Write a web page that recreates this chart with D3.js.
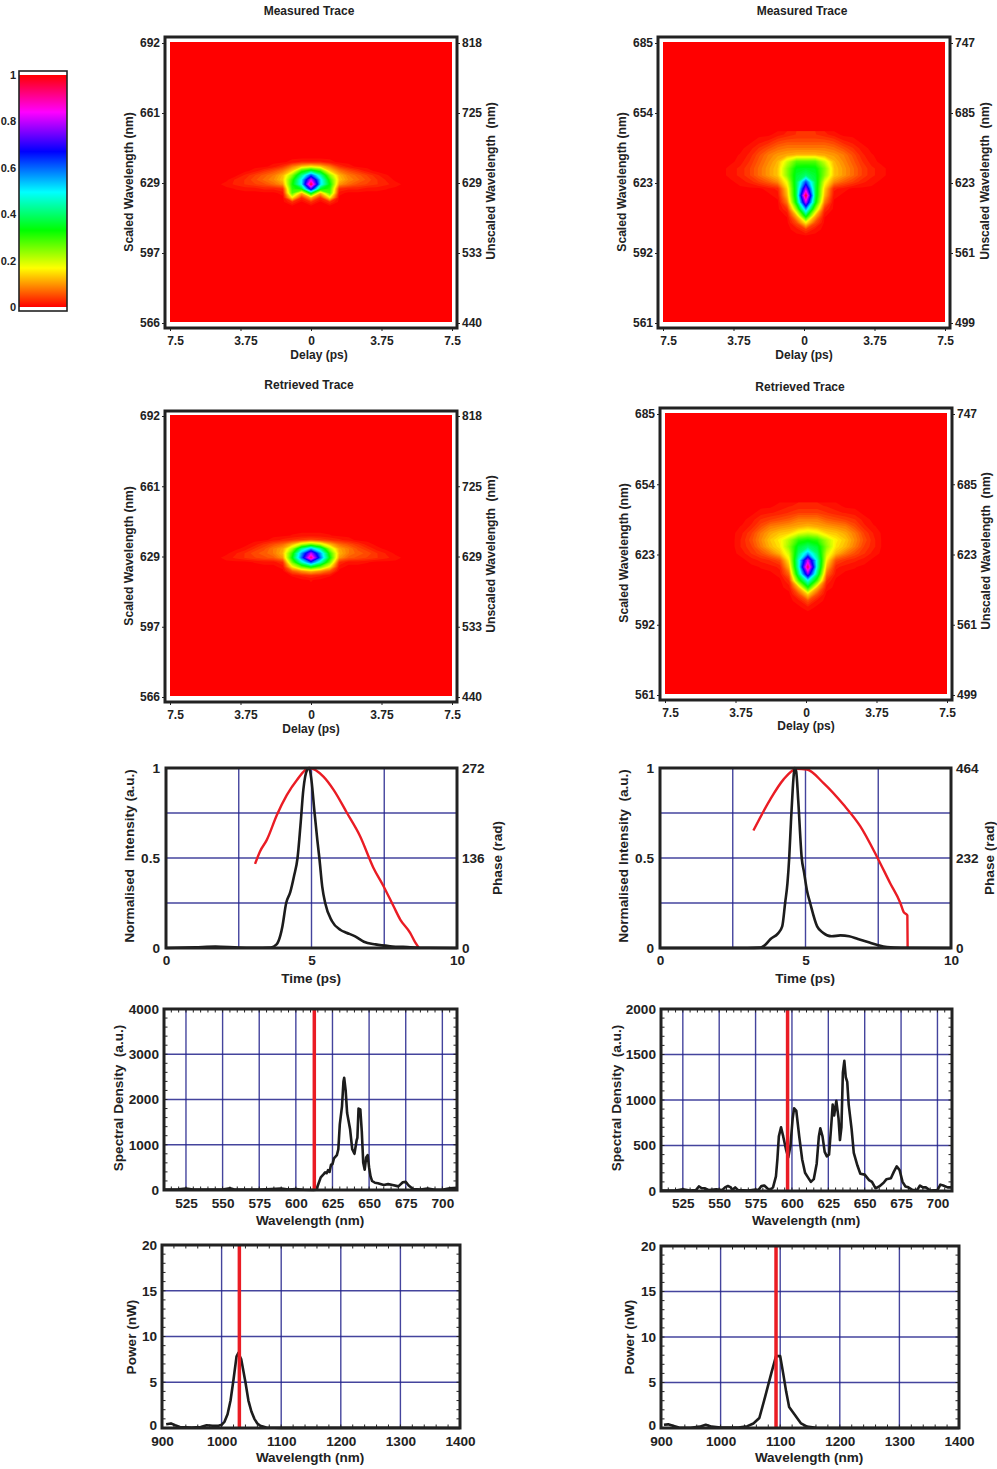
<!DOCTYPE html>
<meta charset="utf-8">
<style>
    body { margin: 0; background: #fff; }
    svg { display: block; }
    text { font-family: "Liberation Sans", Arial, sans-serif; font-weight: bold; fill: #222; white-space: pre; }
    .frame { fill: none; stroke: #222; stroke-width: 3; }
    .grid line { stroke: #23238c; stroke-width: 1.4; stroke-opacity: .85; }
    .minor line { stroke: #222; stroke-width: 1; }
    .axis path { display: none; }
    .axis line { stroke: #222; stroke-width: 1; }
    .black { fill: none; stroke: #1c1c1c; stroke-width: 2.6; stroke-linejoin: round; }
    .red { fill: none; stroke: #ea1c24; stroke-width: 2.4; stroke-linejoin: round; }
    .marker { stroke: #ea1c24; stroke-width: 3.5; }
</style>
<body>
<script src="https://d3js.org/d3.v7.min.js"></script>
<script>

    // colour bar
    var colorStops = [0, 0.168, 0.33, 0.495, 0.67, 0.84, 1];
    var colorNames = ["#ff0000", "#ffff00", "#00ff00", "#00ffff", "#0000ff", "#ff00ff", "#ff0000"];
    var colorTicks = [0, 0.2, 0.4, 0.6, 0.8, 1];

    // trace tick labels
    var delayTicks = [-7.5, -3.75, 0, 3.75, 7.5];
    var scaledLeft = [692, 661, 629, 597, 566];
    var unscaledLeft = [818, 725, 629, 533, 440];
    var scaledRight = [685, 654, 623, 592, 561];
    var unscaledRight = [747, 685, 623, 561, 499];

    // trace values, one row per wavelength, top row first
    var delayLeft = [-5, -4.5, -4, -3.5, -3, -2.5, -2, -1.5, -1, -0.5, 0, 0.5, 1, 1.5, 2, 2.5, 3, 3.5, 4, 4.5, 5];
    var wlLeft = [640, 638, 636, 634, 632, 630, 628, 626, 624, 622, 620, 618];
    var measuredLeft = [
        [0,0,0,0,0,0,0,0,0,0,0,0,0,0,0,0,0,0,0,0,0],
        [0,0,0,0,0,0,0,0,.01,.02,.02,.02,.01,0,0,0,0,0,0,0,0],
        [0,0,0,0,0,0,.01,.03,.08,.13,.15,.13,.08,.03,.01,0,0,0,0,0,0],
        [0,0,0,0,.01,.03,.05,.08,.14,.3,.38,.3,.14,.08,.05,.03,.01,0,0,0,0],
        [0,0,0,.02,.04,.06,.08,.12,.24,.42,.62,.44,.24,.12,.08,.06,.04,.02,.005,0,0],
        [0,0,.02,.03,.05,.07,.09,.13,.3,.5,.82,.52,.3,.13,.09,.07,.05,.03,.015,0,0],
        [0,.01,.02,.03,.04,.05,.07,.1,.32,.5,.97,.52,.33,.1,.07,.05,.04,.03,.02,.01,0],
        [0,0,.005,.01,.01,.02,.02,.03,.3,.35,.72,.36,.3,.03,.02,.02,.01,.01,.005,0,0],
        [0,0,0,0,0,0,0,.01,.28,.12,.36,.12,.28,.01,0,0,0,0,0,0,0],
        [0,0,0,0,0,0,0,0,.16,.03,.12,.03,.16,0,0,0,0,0,0,0,0],
        [0,0,0,0,0,0,0,0,.03,0,.03,0,.03,0,0,0,0,0,0,0,0],
        [0,0,0,0,0,0,0,0,0,0,0,0,0,0,0,0,0,0,0,0,0]
    ];
    var retrievedLeft = [
        [0,0,0,0,0,0,0,0,0,0,0,0,0,0,0,0,0,0,0,0,0],
        [0,0,0,0,0,0,0,0,.005,.01,.01,.01,.005,0,0,0,0,0,0,0,0],
        [0,0,0,0,0,0,.01,.02,.03,.04,.05,.04,.03,.02,.01,0,0,0,0,0,0],
        [0,0,0,0,.01,.03,.05,.07,.12,.2,.25,.2,.12,.07,.05,.03,.01,0,0,0,0],
        [0,0,0,.01,.03,.05,.08,.11,.22,.42,.55,.42,.22,.11,.08,.05,.03,.01,0,0,0],
        [0,0,.015,.03,.05,.06,.08,.12,.3,.56,.8,.56,.3,.12,.08,.06,.05,.03,.015,0,0],
        [0,.01,.02,.03,.04,.05,.06,.1,.33,.6,.93,.6,.33,.1,.06,.05,.04,.03,.02,.01,0],
        [0,0,0,0,.005,.01,.01,.03,.26,.45,.62,.45,.26,.03,.01,.01,.005,0,0,0,0],
        [0,0,0,0,0,0,0,.01,.16,.27,.35,.27,.16,.01,0,0,0,0,0,0,0],
        [0,0,0,0,0,0,0,0,.06,.1,.13,.1,.06,0,0,0,0,0,0,0,0],
        [0,0,0,0,0,0,0,0,.005,.02,.03,.02,.005,0,0,0,0,0,0,0,0],
        [0,0,0,0,0,0,0,0,0,0,.005,0,0,0,0,0,0,0,0,0,0]
    ];

    var delayRight = [-3.9, -3.4, -2.9, -2.4, -1.9, -1.4, -0.9, -0.4, 0.1, 0.6, 1.1, 1.6, 2.1, 2.6, 3.1, 3.6, 4.1];
    var wlRight = [644, 641, 638, 635, 632, 629, 626, 623, 620, 617, 614, 611, 608, 605, 602, 599];
    var measuredRight = [
        [0,0,0,0,0,.01,.02,.03,.03,.03,.02,.01,0,0,0,0,0],
        [0,0,0,.01,.02,.04,.05,.05,.05,.05,.05,.04,.02,.01,0,0,0],
        [0,0,.01,.03,.05,.07,.08,.08,.08,.08,.08,.07,.05,.03,.01,0,0],
        [0,.005,.02,.05,.08,.1,.11,.12,.12,.12,.11,.1,.08,.05,.02,.005,0],
        [0,.01,.03,.06,.09,.12,.2,.28,.28,.28,.2,.12,.09,.06,.03,.01,0],
        [.01,.02,.04,.07,.1,.13,.24,.34,.35,.34,.25,.13,.1,.07,.04,.02,.01],
        [.01,.02,.04,.07,.1,.13,.24,.36,.4,.36,.24,.13,.1,.07,.04,.02,.01],
        [0,.01,.02,.04,.06,.09,.18,.38,.62,.38,.18,.09,.06,.04,.02,.01,0],
        [0,0,0,0,.01,.02,.14,.38,.78,.38,.14,.02,.01,0,0,0,0],
        [0,0,0,0,0,.01,.12,.38,.97,.38,.12,.01,0,0,0,0,0],
        [0,0,0,0,0,0,.08,.35,.8,.35,.08,0,0,0,0,0,0],
        [0,0,0,0,0,0,.03,.24,.56,.24,.03,0,0,0,0,0,0],
        [0,0,0,0,0,0,.005,.12,.36,.12,.005,0,0,0,0,0,0],
        [0,0,0,0,0,0,0,.05,.16,.05,0,0,0,0,0,0,0],
        [0,0,0,0,0,0,0,.01,.04,.01,0,0,0,0,0,0,0],
        [0,0,0,0,0,0,0,0,0,0,0,0,0,0,0,0,0]
    ];
    var retrievedRight = [
        [0,0,0,0,0,.01,.015,.02,.02,.02,.015,.01,0,0,0,0,0],
        [0,0,0,.01,.015,.02,.03,.04,.04,.04,.03,.02,.015,.01,0,0,0],
        [0,0,.01,.03,.04,.05,.06,.08,.08,.08,.06,.05,.04,.03,.01,0,0],
        [0,.005,.02,.05,.08,.09,.1,.11,.12,.11,.1,.09,.08,.05,.02,.005,0],
        [0,.015,.04,.08,.11,.13,.14,.18,.2,.18,.14,.13,.11,.08,.04,.015,0],
        [0,.02,.05,.09,.13,.16,.22,.3,.32,.3,.22,.16,.13,.09,.05,.02,0],
        [0,.02,.04,.08,.12,.15,.24,.36,.4,.36,.24,.15,.12,.08,.04,.02,0],
        [0,.01,.03,.05,.08,.12,.2,.4,.55,.4,.2,.12,.08,.05,.03,.01,0],
        [0,0,.01,.02,.03,.05,.16,.46,.8,.46,.16,.05,.03,.02,.01,0,0],
        [0,0,0,.005,.01,.02,.12,.46,.95,.46,.12,.02,.01,.005,0,0,0],
        [0,0,0,0,0,.01,.07,.4,.75,.4,.07,.01,0,0,0,0,0],
        [0,0,0,0,0,0,.03,.28,.48,.28,.03,0,0,0,0,0,0],
        [0,0,0,0,0,0,.01,.12,.32,.12,.01,0,0,0,0,0,0],
        [0,0,0,0,0,0,0,.05,.14,.05,0,0,0,0,0,0,0],
        [0,0,0,0,0,0,0,.01,.05,.01,0,0,0,0,0,0,0],
        [0,0,0,0,0,0,0,0,.01,0,0,0,0,0,0,0,0]
    ];

    // pulse panels
    var pulseTimeL = [0, 1, 1.7, 2.5, 3, 3.6, 3.8, 3.93, 4.0, 4.13, 4.27, 4.4, 4.52, 4.62, 4.72, 4.85, 4.92, 5.0, 5.1, 5.2, 5.27, 5.37, 5.47, 5.7, 6.0, 6.2, 6.5, 6.8, 7.2, 7.7, 8.3, 9, 10];
    var pulseIntL = [0, .004, .008, .002, .001, .003, .02, .07, .12, .25, .31, .4, .5, .68, .88, .99, 1, .93, .76, .6, .5, .34, .25, .15, .1, .085, .065, .035, .02, .01, .005, .001, 0];
    var phaseTimeL = [3.06, 3.23, 3.46, 3.81, 4.15, 4.5, 4.92, 5.41, 5.76, 6.22, 6.67, 7.13, 7.48, 7.82, 8.05, 8.39, 8.57, 8.68];
    var phaseRadL = [127, 146, 163, 201, 231, 254, 272, 259, 239, 204, 169, 121, 93, 63, 43, 23, 8, 1];

    var pulseTimeR = [0, 3, 3.45, 3.6, 3.8, 4.05, 4.2, 4.3, 4.38, 4.44, 4.5, 4.56, 4.6, 4.63, 4.68, 4.75, 4.87, 4.95, 5.05, 5.16, 5.4, 5.6, 5.9, 6.2, 6.5, 6.8, 7.2, 7.5, 7.8, 8.3, 10];
    var pulseIntR = [0, 0, .002, .015, .05, .08, .12, .25, .36, .5, .7, .88, .97, 1, .98, .82, .5, .42, .32, .25, .12, .085, .065, .07, .065, .05, .03, .015, .005, .001, 0];
    var phaseTimeR = [3.21, 3.78, 4.24, 4.7, 5.05, 5.62, 6.31, 6.88, 7.45, 7.91, 8.26, 8.37, 8.5, 8.51];
    var phaseRadR = [303, 382, 434, 462, 460, 425, 369, 314, 236, 167, 116, 93, 84, 2];

    // spectra
    var specWlL = [510, 520, 525, 530, 540, 550, 555, 558, 575, 580, 590, 595, 600, 605, 612, 614, 615, 617, 619, 620, 621, 622, 623, 624, 625, 626, 628, 629, 630, 631.5, 632.5, 633, 634, 635, 637, 638.5, 640, 641.5, 642, 642.8, 644, 645, 646, 647, 648, 649, 650, 651, 652, 654, 656, 660, 663, 666, 670, 673, 675, 677, 680, 685, 690, 695, 700, 705, 710];
    var specValL = [10, 15, 30, 10, 10, 10, 40, 10, 10, 15, 30, 10, 20, 5, 0, 5, 100, 280, 350, 390, 370, 440, 400, 560, 570, 700, 770, 900, 1450, 1850, 2400, 2480, 2200, 1700, 1350, 900, 800, 1100, 1150, 1800, 1780, 1300, 600, 450, 720, 770, 500, 300, 200, 160, 150, 110, 130, 110, 80, 170, 180, 100, 20, 10, 30, 5, 5, 40, 50];
    var specWlR = [510, 520, 525, 530, 534, 536, 538, 540, 543, 548, 552, 554, 556, 558, 559, 561, 563, 570, 575, 577, 579, 581, 583, 585, 587, 589, 590, 591, 592.5, 594, 596, 597.5, 599, 600.5, 601.5, 603, 605, 607, 609, 611, 613, 615, 617, 618.5, 619.5, 621, 622.5, 624, 625.5, 627, 628, 629, 630.5, 632, 633, 634, 635, 636, 637, 638, 639, 641, 642.5, 645, 647, 650, 653, 655, 657.5, 660, 663, 665, 668, 670, 672, 674, 676, 678, 680, 683, 686, 688, 690, 692, 695, 700, 702, 704, 707, 710];
    var specValR = [5, 5, 20, 5, 10, 50, 30, 30, 10, 20, 10, 40, 55, 40, 10, 40, 10, 5, 15, 10, 55, 60, 30, 10, 40, 160, 350, 600, 700, 600, 450, 370, 500, 800, 910, 880, 600, 350, 200, 150, 100, 130, 300, 600, 690, 600, 430, 380, 400, 720, 950, 830, 990, 800, 560, 700, 1300, 1430, 1250, 1200, 950, 680, 420, 280, 190, 180, 120, 100, 30, 50, 90, 130, 140, 210, 270, 230, 100, 50, 40, 10, 10, 60, 40, 40, 5, 10, 70, 60, 40, 40];

    // power
    var powerWlL = [907, 915, 922, 930, 950, 965, 975, 985, 995, 1000, 1005, 1010, 1015, 1020, 1025, 1028, 1033, 1040, 1045, 1050, 1055, 1060, 1065, 1075, 1100, 1250, 1300, 1400];
    var powerValL = [.4, .5, .3, .1, .05, .1, .3, .25, .25, .35, .7, 1.5, 3, 5.3, 7.8, 8.2, 7.5, 5, 3, 1.8, 1, .5, .25, .05, .01, .03, .03, 0];
    var powerWlR = [905, 912, 920, 930, 950, 965, 975, 985, 1000, 1030, 1045, 1055, 1065, 1075, 1085, 1093, 1100, 1105, 1110, 1115, 1125, 1135, 1145, 1160, 1200, 1400];
    var powerValR = [.35, .4, .25, .05, .03, .15, .35, .15, .05, .05, .2, .5, 1.1, 3.5, 6, 7.9, 7.9, 6, 4, 2.3, 1.4, .5, .15, .03, 0, 0];

    var markers = {specL: 612.6, specR: 597, powerL: 1029.8, powerR: 1093};

    var svg = d3.select("body").append("svg")
        .attr("width", 997)
        .attr("height", 1469);

    var color = d3.scaleLinear().domain(colorStops).range(colorNames);

    function label(str, x, y, size, rotate, anchor) {
        svg.append("text")
            .attr("transform", "translate(" + x + "," + y + ")" + (rotate ? " rotate(-90)" : ""))
            .attr("text-anchor", anchor || "middle")
            .attr("dy", ".35em")
            .style("font-size", size + "px")
            .text(str);
    }

    function zip(xs, ys) {
        return xs.map(function(d, i) { return [d, ys[i]]; });
    }

    function frame(box) {
        svg.append("rect").attr("class", "frame")
            .attr("x", box.x0).attr("y", box.y0)
            .attr("width", box.x1 - box.x0).attr("height", box.y1 - box.y0);
    }

    function styleAxis(g, size) {
        g.attr("class", "axis");
        g.selectAll("text").style("font-size", size + "px");
    }

    function colorBar() {
        var y = d3.scaleLinear().domain([0, 1]).range([307, 75]);
        var grad = svg.append("defs").append("linearGradient")
            .attr("id", "rainbow")
            .attr("x1", 0).attr("x2", 0).attr("y1", 1).attr("y2", 0);
        grad.selectAll("stop")
            .data(colorStops)
            .join("stop")
            .attr("offset", function(d) { return d; })
            .attr("stop-color", function(d) { return color(d); });
        svg.append("rect")
            .attr("x", 19).attr("width", 48)
            .attr("y", y(1)).attr("height", y(0) - y(1))
            .attr("fill", "url(#rainbow)");
        svg.append("rect")
            .attr("x", 19).attr("y", 71).attr("width", 48).attr("height", 240)
            .attr("fill", "none").attr("stroke", "#222").attr("stroke-width", 1.6);
        svg.append("g").attr("transform", "translate(19,0)")
            .call(d3.axisLeft(y).tickValues(colorTicks).tickSize(0).tickPadding(3).tickFormat(d3.format("~g")))
            .call(styleAxis, 11);
    }

    function trace(p) {
        var xs = d3.scaleLinear().domain([-7.5, 7.5]).range([p.img.x0, p.img.x1]);
        var ys = d3.scaleLinear().domain(p.wlDomain).range([p.img.y0, p.img.y1]);
        var dx = p.delays[1] - p.delays[0], dw = p.wls[0] - p.wls[1];
        var project = d3.geoTransform({point: function(px, py) {
            this.stream.point(xs(p.delays[0] + (px - 0.5) * dx), ys(p.wls[0] - (py - 0.5) * dw));
        }});
        var path = d3.geoPath(project);
        var step = 0.0125;
        var contours = d3.contours()
            .size([p.delays.length, p.wls.length])
            .thresholds(d3.range(0.004, 1, step))
            (p.values.flat());

        svg.append("rect")
            .attr("x", p.img.x0).attr("y", p.img.y0)
            .attr("width", p.img.x1 - p.img.x0).attr("height", p.img.y1 - p.img.y0)
            .attr("fill", color(0));
        svg.append("g").selectAll("path")
            .data(contours)
            .join("path")
            .attr("d", path)
            .attr("fill", function(d) { return color(d.value + step / 2); });
        frame(p.box);

        // wavelength labels are evenly spaced on the original, so a point scale does it
        var yL = d3.scalePoint().domain(p.left).range([p.img.y0 + 1, p.img.y1 + 1]);
        var yR = d3.scalePoint().domain(p.right).range([p.img.y0 + 1, p.img.y1 + 1]);
        svg.append("g").attr("transform", "translate(" + p.box.x0 + ",0)")
            .call(d3.axisLeft(yL).tickSize(3).tickPadding(2))
            .call(styleAxis, 12);
        svg.append("g").attr("transform", "translate(" + p.box.x1 + ",0)")
            .call(d3.axisRight(yR).tickSize(3).tickPadding(2))
            .call(styleAxis, 12);
        svg.append("g").attr("transform", "translate(0," + p.box.y1 + ")")
            .call(d3.axisBottom(xs).tickValues(delayTicks).tickSize(3).tickPadding(5).tickFormat(Math.abs))
            .call(styleAxis, 12)
            .selectAll("text")
            .attr("dx", function(d) { return d < 0 ? 5 : 0; });

        label(p.title, p.titleAt[0], p.titleAt[1], 12);
        label("Delay (ps)", p.delayAt[0], p.delayAt[1], 12);
        label("Scaled Wavelength (nm)", p.leftAt[0], p.leftAt[1], 12.1, true);
        label("Unscaled Wavelength  (nm)", p.rightAt[0], p.rightAt[1], 12.1, true);
    }

    // common frame, grid and axes of the line panels
    function linePanel(p) {
        var x = d3.scaleLinear().domain(p.xDomain).range([p.box.x0, p.box.x1]);
        var y = d3.scaleLinear().domain(p.yDomain).range([p.box.y1, p.box.y0]);

        svg.append("g").attr("class", "grid").selectAll("line")
            .data(p.xGrid).join("line")
            .attr("x1", x).attr("x2", x).attr("y1", p.box.y0).attr("y2", p.box.y1);
        svg.append("g").attr("class", "grid").selectAll("line")
            .data(p.yGrid).join("line")
            .attr("y1", y).attr("y2", y).attr("x1", p.box.x0).attr("x2", p.box.x1);

        if (p.xMinor) {
            var m = svg.append("g").attr("class", "minor");
            [p.box.y0, p.box.y1].forEach(function(v) {
                var s = v === p.box.y0 ? 3.5 : -3.5;
                m.append("g").selectAll("line").data(p.xMinor).join("line")
                    .attr("x1", x).attr("x2", x).attr("y1", v).attr("y2", v + s);
            });
            [p.box.x0, p.box.x1].forEach(function(v) {
                var s = v === p.box.x0 ? 3.5 : -3.5;
                m.append("g").selectAll("line").data(p.yMinor).join("line")
                    .attr("y1", y).attr("y2", y).attr("x1", v).attr("x2", v + s);
            });
        }

        return {x: x, y: y, after: function() {
            frame(p.box);
            var yAxis = svg.append("g").attr("transform", "translate(" + p.box.x0 + ",0)")
                .call(d3.axisLeft(y).tickValues(p.yTicks).tickSize(0).tickPadding(p.yPad).tickFormat(d3.format("~g")))
                .call(styleAxis, 13.6);
            // lift the bottom label a little where it would touch the first x label
            if (p.liftZero) {
                yAxis.selectAll("text").filter(function(d) { return d === 0; }).attr("y", -p.liftZero);
            }
            svg.append("g").attr("transform", "translate(0," + p.box.y1 + ")")
                .call(d3.axisBottom(x).tickValues(p.xTicks).tickSize(0).tickPadding(p.xPad).tickFormat(d3.format("d")))
                .call(styleAxis, 13.6);
            label(p.xTitle, p.xTitleAt[0], p.xTitleAt[1], 13.5);
            label(p.yTitle, p.yTitleAt[0], p.yTitleAt[1], 13.6, true);
        }};
    }

    function drawLine(points, x, y, cls, curve) {
        svg.append("path")
            .attr("class", cls)
            .attr("d", d3.line().x(function(d) { return x(d[0]); }).y(function(d) { return y(d[1]); }).curve(curve)(points));
    }

    function pulse(p) {
        var base = linePanel({
            box: p.box, xDomain: [0, 10], yDomain: [0, 1],
            xGrid: [2.5, 5, 7.5], yGrid: [0.25, 0.5, 0.75],
            xTicks: [0, 5, 10], yTicks: [0, 0.5, 1], yPad: 6, xPad: 7,
            xTitle: "Time (ps)", xTitleAt: p.xTitleAt,
            yTitle: p.yTitle, yTitleAt: p.yTitleAt
        });
        var phase = d3.scaleLinear().domain(p.phaseDomain).range([p.box.y1, p.box.y0]);
        drawLine(zip(p.phaseT, p.phase), base.x, phase, "red", d3.curveMonotoneX);
        drawLine(zip(p.t, p.i), base.x, base.y, "black", d3.curveMonotoneX);
        base.after();
        svg.append("g").attr("transform", "translate(" + p.box.x1 + ",0)")
            .call(d3.axisRight(phase).tickValues([0, p.phaseDomain[1] / 2, p.phaseDomain[1]]).tickSize(0).tickPadding(5))
            .call(styleAxis, 13.6);
        label("Phase (rad)", p.phaseAt[0], p.phaseAt[1], 13.6, true);
    }

    function spectrum(p) {
        var base = linePanel(p);
        drawLine(zip(p.wl, p.val), base.x, base.y, "black", d3.curveLinear);
        svg.append("line").attr("class", "marker")
            .attr("x1", base.x(p.marker)).attr("x2", base.x(p.marker))
            .attr("y1", p.box.y0).attr("y2", p.box.y1);
        base.after();
    }

    colorBar();

    trace({
        box: {x0: 165, x1: 457, y0: 37, y1: 328}, img: {x0: 170, x1: 452, y0: 42, y1: 322},
        wlDomain: [692, 566], delays: delayLeft, wls: wlLeft, values: measuredLeft,
        left: scaledLeft, right: unscaledLeft,
        title: "Measured Trace", titleAt: [309, 11], delayAt: [319, 355], leftAt: [129, 182], rightAt: [491, 181]
    });
    trace({
        box: {x0: 658, x1: 950, y0: 37, y1: 328}, img: {x0: 663, x1: 945, y0: 42, y1: 322},
        wlDomain: [685, 561], delays: delayRight, wls: wlRight, values: measuredRight,
        left: scaledRight, right: unscaledRight,
        title: "Measured Trace", titleAt: [802, 11], delayAt: [804, 355], leftAt: [622, 182], rightAt: [985, 181]
    });
    trace({
        box: {x0: 165, x1: 457, y0: 411, y1: 702}, img: {x0: 170, x1: 452, y0: 415, y1: 696},
        wlDomain: [692, 566], delays: delayLeft, wls: wlLeft, values: retrievedLeft,
        left: scaledLeft, right: unscaledLeft,
        title: "Retrieved Trace", titleAt: [309, 385], delayAt: [311, 729], leftAt: [129, 556], rightAt: [491, 554]
    });
    trace({
        box: {x0: 660, x1: 952, y0: 408, y1: 700}, img: {x0: 665, x1: 947, y0: 413, y1: 694},
        wlDomain: [685, 561], delays: delayRight, wls: wlRight, values: retrievedRight,
        left: scaledRight, right: unscaledRight,
        title: "Retrieved Trace", titleAt: [800, 387], delayAt: [806, 726], leftAt: [624, 553], rightAt: [986, 551]
    });

    pulse({
        box: {x0: 166, x1: 457, y0: 768, y1: 948}, t: pulseTimeL, i: pulseIntL, phaseT: phaseTimeL, phase: phaseRadL,
        phaseDomain: [0, 272], xTitleAt: [311, 978], yTitle: "Normalised  Intensity (a.u.)", yTitleAt: [129, 856], phaseAt: [497, 858]
    });
    pulse({
        box: {x0: 660, x1: 951, y0: 768, y1: 948}, t: pulseTimeR, i: pulseIntR, phaseT: phaseTimeR, phase: phaseRadR,
        phaseDomain: [0, 464], xTitleAt: [805, 978], yTitle: "Normalised Intensity  (a.u.)", yTitleAt: [623, 856], phaseAt: [989, 858]
    });

    var specGrid = d3.range(525, 701, 25);
    var specMinor = d3.range(510, 711, 5);
    spectrum({
        box: {x0: 164, x1: 457, y0: 1009, y1: 1190}, xDomain: [510, 710], yDomain: [0, 4000],
        xGrid: specGrid, yGrid: [1000, 2000, 3000], xMinor: specMinor, yMinor: d3.range(0, 4001, 200),
        xTicks: specGrid, yTicks: [0, 1000, 2000, 3000, 4000], yPad: 5, xPad: 8,
        xTitle: "Wavelength (nm)", xTitleAt: [310, 1220], yTitle: "Spectral Density  (a.u.)", yTitleAt: [118, 1098],
        wl: specWlL, val: specValL, marker: markers.specL
    });
    spectrum({
        box: {x0: 661, x1: 952, y0: 1009, y1: 1191}, xDomain: [510, 710], yDomain: [0, 2000],
        xGrid: specGrid, yGrid: [500, 1000, 1500], xMinor: specMinor, yMinor: d3.range(0, 2001, 100),
        xTicks: specGrid, yTicks: [0, 500, 1000, 1500, 2000], yPad: 5, xPad: 7,
        xTitle: "Wavelength (nm)", xTitleAt: [806, 1220], yTitle: "Spectral Density  (a.u.)", yTitleAt: [616, 1098],
        wl: specWlR, val: specValR, marker: markers.specR
    });

    var powerGrid = [1000, 1100, 1200, 1300];
    var powerMinor = d3.range(900, 1401, 20);
    spectrum({
        box: {x0: 162, x1: 460, y0: 1245, y1: 1428}, xDomain: [900, 1400], yDomain: [0, 20],
        xGrid: powerGrid, yGrid: [5, 10, 15], xMinor: powerMinor, yMinor: d3.range(0, 21, 1),
        xTicks: [900, 1000, 1100, 1200, 1300, 1400], yTicks: [0, 5, 10, 15, 20], yPad: 5, xPad: 8, liftZero: 3,
        xTitle: "Wavelength (nm)", xTitleAt: [310, 1457], yTitle: "Power (nW)", yTitleAt: [131, 1337],
        wl: powerWlL, val: powerValL, marker: markers.powerL
    });
    spectrum({
        box: {x0: 661, x1: 959, y0: 1246, y1: 1428}, xDomain: [900, 1400], yDomain: [0, 20],
        xGrid: powerGrid, yGrid: [5, 10, 15], xMinor: powerMinor, yMinor: d3.range(0, 21, 1),
        xTicks: [900, 1000, 1100, 1200, 1300, 1400], yTicks: [0, 5, 10, 15, 20], yPad: 5, xPad: 8, liftZero: 3,
        xTitle: "Wavelength (nm)", xTitleAt: [809, 1457], yTitle: "Power (nW)", yTitleAt: [629, 1337],
        wl: powerWlR, val: powerValR, marker: markers.powerR
    });

</script>
